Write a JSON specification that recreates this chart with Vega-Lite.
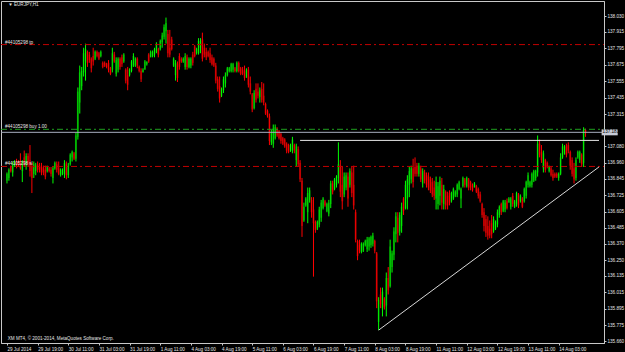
{
"$schema":"https://vega.github.io/schema/vega-lite/v6.json",
"width":603,"height":342,
"autosize":{"type":"none"},
"padding":{"left":1,"top":1,"right":21,"bottom":9},
"background":"#000000",
"view":{"stroke":"#c8c8c8","strokeWidth":1,"fill":"#000000"},
"config":{"axis":{"grid":false,"labelFont":"Liberation Sans","labelFontSize":4.6,"labelColor":"#e6e6e6","domainColor":"#c8c8c8","tickColor":"#c8c8c8","title":null,"labelOverlap":false,"labelFlush":false},
"text":{"font":"Liberation Sans"}},
"datasets":{
"bars":[
{"i":0,"o":136.83,"h":136.89,"l":136.81,"c":136.88},
{"i":1,"o":136.85,"h":136.92,"l":136.83,"c":136.91},
{"i":2,"o":136.93,"h":136.94,"l":136.89,"c":136.90},
{"i":3,"o":136.89,"h":136.97,"l":136.86,"c":136.95},
{"i":4,"o":136.94,"h":136.98,"l":136.93,"c":136.97},
{"i":5,"o":136.97,"h":136.99,"l":136.92,"c":136.93},
{"i":6,"o":136.97,"h":136.98,"l":136.93,"c":136.94},
{"i":7,"o":136.97,"h":137.03,"l":136.91,"c":136.92},
{"i":8,"o":136.90,"h":136.98,"l":136.82,"c":136.97},
{"i":9,"o":137.00,"h":137.05,"l":136.93,"c":136.94},
{"i":10,"o":136.94,"h":137.03,"l":136.91,"c":137.01},
{"i":11,"o":137.01,"h":137.03,"l":136.93,"c":136.95},
{"i":12,"o":136.98,"h":137.09,"l":136.86,"c":136.90},
{"i":13,"o":136.93,"h":136.96,"l":136.74,"c":136.85},
{"i":14,"o":136.88,"h":136.97,"l":136.85,"c":136.95},
{"i":15,"o":136.90,"h":136.96,"l":136.87,"c":136.94},
{"i":16,"o":136.95,"h":136.97,"l":136.89,"c":136.91},
{"i":17,"o":136.94,"h":136.96,"l":136.89,"c":136.91},
{"i":18,"o":136.93,"h":136.96,"l":136.87,"c":136.89},
{"i":19,"o":136.92,"h":136.94,"l":136.87,"c":136.89},
{"i":20,"o":136.91,"h":136.94,"l":136.84,"c":136.86},
{"i":21,"o":136.90,"h":136.94,"l":136.89,"c":136.93},
{"i":22,"o":136.92,"h":136.93,"l":136.89,"c":136.90},
{"i":23,"o":136.91,"h":136.93,"l":136.86,"c":136.88},
{"i":24,"o":136.85,"h":136.93,"l":136.81,"c":136.92},
{"i":25,"o":136.92,"h":136.97,"l":136.91,"c":136.96},
{"i":26,"o":136.95,"h":136.97,"l":136.89,"c":136.91},
{"i":27,"o":136.92,"h":136.97,"l":136.87,"c":136.88},
{"i":28,"o":136.87,"h":136.92,"l":136.86,"c":136.91},
{"i":29,"o":136.88,"h":136.92,"l":136.87,"c":136.91},
{"i":30,"o":136.88,"h":136.98,"l":136.85,"c":136.96},
{"i":31,"o":136.95,"h":136.97,"l":136.84,"c":136.87},
{"i":32,"o":136.87,"h":136.96,"l":136.85,"c":136.94},
{"i":33,"o":136.95,"h":137.03,"l":136.94,"c":137.02},
{"i":34,"o":137.00,"h":137.05,"l":136.97,"c":137.04},
{"i":35,"o":137.03,"h":137.04,"l":136.98,"c":136.99},
{"i":36,"o":136.99,"h":137.18,"l":136.97,"c":137.16},
{"i":37,"o":137.15,"h":137.51,"l":137.13,"c":137.48},
{"i":38,"o":137.40,"h":137.67,"l":137.32,"c":137.62},
{"i":39,"o":137.52,"h":137.66,"l":137.49,"c":137.63},
{"i":40,"o":137.62,"h":137.80,"l":137.59,"c":137.76},
{"i":41,"o":137.70,"h":137.83,"l":137.56,"c":137.79},
{"i":42,"o":137.77,"h":137.78,"l":137.66,"c":137.69},
{"i":43,"o":137.75,"h":137.77,"l":137.69,"c":137.71},
{"i":44,"o":137.72,"h":137.73,"l":137.62,"c":137.65},
{"i":45,"o":137.74,"h":137.80,"l":137.67,"c":137.70},
{"i":46,"o":137.72,"h":137.78,"l":137.71,"c":137.77},
{"i":47,"o":137.77,"h":137.78,"l":137.73,"c":137.74},
{"i":48,"o":137.76,"h":137.77,"l":137.71,"c":137.72},
{"i":49,"o":137.74,"h":137.78,"l":137.73,"c":137.77},
{"i":50,"o":137.69,"h":137.70,"l":137.65,"c":137.66},
{"i":51,"o":137.69,"h":137.70,"l":137.66,"c":137.67},
{"i":52,"o":137.68,"h":137.69,"l":137.65,"c":137.66},
{"i":53,"o":137.69,"h":137.71,"l":137.62,"c":137.64},
{"i":54,"o":137.65,"h":137.66,"l":137.60,"c":137.61},
{"i":55,"o":137.64,"h":137.80,"l":137.62,"c":137.76},
{"i":56,"o":137.75,"h":137.77,"l":137.69,"c":137.70},
{"i":57,"o":137.61,"h":137.73,"l":137.59,"c":137.71},
{"i":58,"o":137.64,"h":137.73,"l":137.62,"c":137.72},
{"i":59,"o":137.72,"h":137.73,"l":137.64,"c":137.66},
{"i":60,"o":137.73,"h":137.75,"l":137.66,"c":137.68},
{"i":61,"o":137.70,"h":137.76,"l":137.69,"c":137.75},
{"i":62,"o":137.64,"h":137.65,"l":137.54,"c":137.56},
{"i":63,"o":137.60,"h":137.66,"l":137.49,"c":137.53},
{"i":64,"o":137.60,"h":137.65,"l":137.59,"c":137.64},
{"i":65,"o":137.63,"h":137.71,"l":137.62,"c":137.70},
{"i":66,"o":137.67,"h":137.76,"l":137.66,"c":137.74},
{"i":67,"o":137.67,"h":137.73,"l":137.66,"c":137.72},
{"i":68,"o":137.72,"h":137.73,"l":137.65,"c":137.67},
{"i":69,"o":137.66,"h":137.67,"l":137.62,"c":137.63},
{"i":70,"o":137.63,"h":137.65,"l":137.55,"c":137.57},
{"i":71,"o":137.62,"h":137.65,"l":137.62,"c":137.64},
{"i":72,"o":137.64,"h":137.71,"l":137.64,"c":137.70},
{"i":73,"o":137.68,"h":137.70,"l":137.67,"c":137.70},
{"i":74,"o":137.75,"h":137.76,"l":137.69,"c":137.70},
{"i":75,"o":137.73,"h":137.78,"l":137.73,"c":137.77},
{"i":76,"o":137.74,"h":137.78,"l":137.73,"c":137.77},
{"i":77,"o":137.75,"h":137.80,"l":137.73,"c":137.79},
{"i":78,"o":137.77,"h":137.84,"l":137.76,"c":137.83},
{"i":79,"o":137.79,"h":137.80,"l":137.73,"c":137.75},
{"i":80,"o":137.79,"h":137.86,"l":137.78,"c":137.85},
{"i":81,"o":137.84,"h":137.91,"l":137.80,"c":137.89},
{"i":82,"o":137.88,"h":137.97,"l":137.86,"c":137.95},
{"i":83,"o":137.92,"h":138.02,"l":137.83,"c":137.98},
{"i":84,"o":137.90,"h":137.93,"l":137.73,"c":137.76},
{"i":85,"o":137.80,"h":137.93,"l":137.73,"c":137.75},
{"i":86,"o":137.86,"h":137.88,"l":137.78,"c":137.79},
{"i":87,"o":137.67,"h":137.73,"l":137.66,"c":137.72},
{"i":88,"o":137.60,"h":137.71,"l":137.56,"c":137.69},
{"i":89,"o":137.68,"h":137.70,"l":137.55,"c":137.58},
{"i":90,"o":137.74,"h":137.76,"l":137.64,"c":137.66},
{"i":91,"o":137.72,"h":137.73,"l":137.69,"c":137.70},
{"i":92,"o":137.70,"h":137.73,"l":137.69,"c":137.72},
{"i":93,"o":137.66,"h":137.76,"l":137.64,"c":137.74},
{"i":94,"o":137.73,"h":137.75,"l":137.64,"c":137.66},
{"i":95,"o":137.66,"h":137.73,"l":137.65,"c":137.72},
{"i":96,"o":137.67,"h":137.73,"l":137.65,"c":137.72},
{"i":97,"o":137.75,"h":137.77,"l":137.67,"c":137.69},
{"i":98,"o":137.81,"h":137.82,"l":137.73,"c":137.74},
{"i":99,"o":137.76,"h":137.80,"l":137.75,"c":137.79},
{"i":100,"o":137.76,"h":137.87,"l":137.75,"c":137.85},
{"i":101,"o":137.80,"h":137.87,"l":137.76,"c":137.85},
{"i":102,"o":137.86,"h":137.91,"l":137.70,"c":137.72},
{"i":103,"o":137.80,"h":137.83,"l":137.73,"c":137.75},
{"i":104,"o":137.77,"h":137.80,"l":137.71,"c":137.73},
{"i":105,"o":137.77,"h":137.78,"l":137.73,"c":137.74},
{"i":106,"o":137.76,"h":137.80,"l":137.69,"c":137.71},
{"i":107,"o":137.73,"h":137.75,"l":137.67,"c":137.68},
{"i":108,"o":137.72,"h":137.73,"l":137.66,"c":137.67},
{"i":109,"o":137.67,"h":137.69,"l":137.54,"c":137.56},
{"i":110,"o":137.57,"h":137.59,"l":137.48,"c":137.50},
{"i":111,"o":137.52,"h":137.59,"l":137.40,"c":137.43},
{"i":112,"o":137.45,"h":137.51,"l":137.44,"c":137.50},
{"i":113,"o":137.49,"h":137.59,"l":137.47,"c":137.57},
{"i":114,"o":137.54,"h":137.62,"l":137.51,"c":137.60},
{"i":115,"o":137.60,"h":137.66,"l":137.59,"c":137.65},
{"i":116,"o":137.63,"h":137.66,"l":137.62,"c":137.65},
{"i":117,"o":137.63,"h":137.69,"l":137.62,"c":137.68},
{"i":118,"o":137.64,"h":137.69,"l":137.62,"c":137.68},
{"i":119,"o":137.65,"h":137.66,"l":137.62,"c":137.63},
{"i":120,"o":137.63,"h":137.70,"l":137.62,"c":137.69},
{"i":121,"o":137.69,"h":137.70,"l":137.62,"c":137.63},
{"i":122,"o":137.65,"h":137.66,"l":137.60,"c":137.61},
{"i":123,"o":137.64,"h":137.66,"l":137.60,"c":137.61},
{"i":124,"o":137.63,"h":137.67,"l":137.56,"c":137.58},
{"i":125,"o":137.59,"h":137.65,"l":137.58,"c":137.64},
{"i":126,"o":137.64,"h":137.66,"l":137.51,"c":137.53},
{"i":127,"o":137.54,"h":137.59,"l":137.46,"c":137.48},
{"i":128,"o":137.46,"h":137.47,"l":137.33,"c":137.35},
{"i":129,"o":137.36,"h":137.49,"l":137.35,"c":137.47},
{"i":130,"o":137.50,"h":137.54,"l":137.40,"c":137.42},
{"i":131,"o":137.48,"h":137.54,"l":137.43,"c":137.45},
{"i":132,"o":137.44,"h":137.51,"l":137.40,"c":137.49},
{"i":133,"o":137.50,"h":137.55,"l":137.40,"c":137.42},
{"i":134,"o":137.45,"h":137.54,"l":137.38,"c":137.40},
{"i":135,"o":137.39,"h":137.40,"l":137.31,"c":137.32},
{"i":136,"o":137.34,"h":137.35,"l":137.29,"c":137.30},
{"i":137,"o":137.30,"h":137.32,"l":137.09,"c":137.12},
{"i":138,"o":137.11,"h":137.20,"l":137.09,"c":137.18},
{"i":139,"o":137.10,"h":137.24,"l":137.07,"c":137.21},
{"i":140,"o":137.14,"h":137.24,"l":137.13,"c":137.22},
{"i":141,"o":137.21,"h":137.22,"l":137.15,"c":137.16},
{"i":142,"o":137.19,"h":137.20,"l":137.13,"c":137.14},
{"i":143,"o":137.17,"h":137.18,"l":137.10,"c":137.12},
{"i":144,"o":137.14,"h":137.15,"l":137.09,"c":137.10},
{"i":145,"o":137.13,"h":137.14,"l":137.07,"c":137.08},
{"i":146,"o":137.10,"h":137.11,"l":137.03,"c":137.05},
{"i":147,"o":137.09,"h":137.10,"l":137.03,"c":137.04},
{"i":148,"o":137.05,"h":137.10,"l":137.04,"c":137.09},
{"i":149,"o":137.05,"h":137.15,"l":137.03,"c":137.13},
{"i":150,"o":137.09,"h":137.10,"l":137.03,"c":137.05},
{"i":151,"o":136.98,"h":137.10,"l":136.93,"c":137.08},
{"i":152,"o":137.06,"h":137.08,"l":136.93,"c":136.95},
{"i":153,"o":136.96,"h":136.98,"l":136.82,"c":136.84},
{"i":154,"o":136.83,"h":136.85,"l":136.42,"c":136.50},
{"i":155,"o":136.54,"h":136.67,"l":136.53,"c":136.64},
{"i":156,"o":136.65,"h":136.71,"l":136.64,"c":136.70},
{"i":157,"o":136.60,"h":136.78,"l":136.52,"c":136.74},
{"i":158,"o":136.69,"h":136.78,"l":136.67,"c":136.76},
{"i":159,"o":136.69,"h":136.71,"l":136.56,"c":136.60},
{"i":160,"o":136.62,"h":136.71,"l":136.13,"c":136.52},
{"i":161,"o":136.53,"h":136.54,"l":136.45,"c":136.47},
{"i":162,"o":136.48,"h":136.54,"l":136.47,"c":136.53},
{"i":163,"o":136.51,"h":136.64,"l":136.49,"c":136.62},
{"i":164,"o":136.56,"h":136.69,"l":136.53,"c":136.67},
{"i":165,"o":136.63,"h":136.71,"l":136.62,"c":136.70},
{"i":166,"o":136.68,"h":136.69,"l":136.64,"c":136.65},
{"i":167,"o":136.61,"h":136.67,"l":136.60,"c":136.66},
{"i":168,"o":136.59,"h":136.69,"l":136.57,"c":136.67},
{"i":169,"o":136.66,"h":136.83,"l":136.63,"c":136.81},
{"i":170,"o":136.81,"h":136.83,"l":136.73,"c":136.75},
{"i":171,"o":136.77,"h":136.85,"l":136.76,"c":136.84},
{"i":172,"o":136.80,"h":136.87,"l":136.78,"c":136.86},
{"i":173,"o":136.85,"h":137.11,"l":136.81,"c":136.95},
{"i":174,"o":136.94,"h":136.98,"l":136.71,"c":136.75},
{"i":175,"o":136.80,"h":136.93,"l":136.62,"c":136.68},
{"i":176,"o":136.73,"h":136.89,"l":136.71,"c":136.86},
{"i":177,"o":136.78,"h":136.89,"l":136.76,"c":136.87},
{"i":178,"o":136.86,"h":136.89,"l":136.64,"c":136.70},
{"i":179,"o":136.80,"h":136.92,"l":136.78,"c":136.90},
{"i":180,"o":136.89,"h":136.93,"l":136.71,"c":136.74},
{"i":181,"o":136.80,"h":136.94,"l":136.62,"c":136.65},
{"i":182,"o":136.60,"h":136.62,"l":136.38,"c":136.40},
{"i":183,"o":136.39,"h":136.40,"l":136.25,"c":136.28},
{"i":184,"o":136.36,"h":136.40,"l":136.30,"c":136.32},
{"i":185,"o":136.31,"h":136.38,"l":136.30,"c":136.37},
{"i":186,"o":136.32,"h":136.38,"l":136.31,"c":136.37},
{"i":187,"o":136.36,"h":136.40,"l":136.35,"c":136.39},
{"i":188,"o":136.33,"h":136.42,"l":136.31,"c":136.40},
{"i":189,"o":136.35,"h":136.42,"l":136.32,"c":136.41},
{"i":190,"o":136.36,"h":136.43,"l":136.34,"c":136.42},
{"i":191,"o":136.37,"h":136.45,"l":136.35,"c":136.43},
{"i":192,"o":136.39,"h":136.40,"l":136.30,"c":136.32},
{"i":193,"o":136.30,"h":136.31,"l":135.90,"c":135.95},
{"i":194,"o":135.80,"h":135.98,"l":135.74,"c":135.96},
{"i":195,"o":136.00,"h":136.05,"l":135.90,"c":135.93},
{"i":196,"o":135.90,"h":136.05,"l":135.84,"c":136.02},
{"i":197,"o":135.97,"h":135.98,"l":135.89,"c":135.91},
{"i":198,"o":135.92,"h":136.16,"l":135.84,"c":136.12},
{"i":199,"o":136.12,"h":136.20,"l":136.00,"c":136.03},
{"i":200,"o":136.06,"h":136.40,"l":136.05,"c":136.35},
{"i":201,"o":136.20,"h":136.32,"l":136.16,"c":136.30},
{"i":202,"o":136.29,"h":136.49,"l":136.25,"c":136.46},
{"i":203,"o":136.44,"h":136.60,"l":136.38,"c":136.57},
{"i":204,"o":136.56,"h":136.60,"l":136.38,"c":136.45},
{"i":205,"o":136.46,"h":136.60,"l":136.43,"c":136.58},
{"i":206,"o":136.50,"h":136.67,"l":136.45,"c":136.64},
{"i":207,"o":136.70,"h":136.71,"l":136.58,"c":136.61},
{"i":208,"o":136.63,"h":136.83,"l":136.62,"c":136.80},
{"i":209,"o":136.70,"h":136.87,"l":136.62,"c":136.84},
{"i":210,"o":136.80,"h":136.93,"l":136.71,"c":136.90},
{"i":211,"o":136.84,"h":136.94,"l":136.81,"c":136.92},
{"i":212,"o":136.92,"h":136.99,"l":136.78,"c":136.82},
{"i":213,"o":136.93,"h":137.00,"l":136.86,"c":136.88},
{"i":214,"o":136.94,"h":136.96,"l":136.86,"c":136.88},
{"i":215,"o":136.88,"h":136.96,"l":136.86,"c":136.94},
{"i":216,"o":136.92,"h":136.94,"l":136.82,"c":136.84},
{"i":217,"o":136.81,"h":136.92,"l":136.78,"c":136.90},
{"i":218,"o":136.89,"h":136.91,"l":136.81,"c":136.83},
{"i":219,"o":136.87,"h":136.89,"l":136.78,"c":136.80},
{"i":220,"o":136.86,"h":136.89,"l":136.76,"c":136.78},
{"i":221,"o":136.84,"h":136.86,"l":136.74,"c":136.76},
{"i":222,"o":136.82,"h":136.85,"l":136.71,"c":136.73},
{"i":223,"o":136.78,"h":136.83,"l":136.69,"c":136.72},
{"i":224,"o":136.70,"h":136.86,"l":136.62,"c":136.82},
{"i":225,"o":136.66,"h":136.82,"l":136.62,"c":136.79},
{"i":226,"o":136.72,"h":136.86,"l":136.65,"c":136.83},
{"i":227,"o":136.80,"h":136.85,"l":136.62,"c":136.67},
{"i":228,"o":136.66,"h":136.80,"l":136.62,"c":136.77},
{"i":229,"o":136.75,"h":136.76,"l":136.62,"c":136.65},
{"i":230,"o":136.72,"h":136.75,"l":136.62,"c":136.65},
{"i":231,"o":136.74,"h":136.76,"l":136.65,"c":136.67},
{"i":232,"o":136.68,"h":136.75,"l":136.67,"c":136.74},
{"i":233,"o":136.70,"h":136.78,"l":136.69,"c":136.77},
{"i":234,"o":136.72,"h":136.76,"l":136.71,"c":136.75},
{"i":235,"o":136.73,"h":136.81,"l":136.71,"c":136.80},
{"i":236,"o":136.77,"h":136.83,"l":136.76,"c":136.82},
{"i":237,"o":136.70,"h":136.78,"l":136.63,"c":136.77},
{"i":238,"o":136.79,"h":136.86,"l":136.78,"c":136.85},
{"i":239,"o":136.84,"h":136.85,"l":136.78,"c":136.80},
{"i":240,"o":136.79,"h":136.86,"l":136.78,"c":136.85},
{"i":241,"o":136.84,"h":136.85,"l":136.76,"c":136.78},
{"i":242,"o":136.82,"h":136.83,"l":136.76,"c":136.78},
{"i":243,"o":136.80,"h":136.81,"l":136.75,"c":136.76},
{"i":244,"o":136.78,"h":136.82,"l":136.78,"c":136.81},
{"i":245,"o":136.79,"h":136.80,"l":136.74,"c":136.75},
{"i":246,"o":136.77,"h":136.78,"l":136.70,"c":136.72},
{"i":247,"o":136.73,"h":136.75,"l":136.67,"c":136.68},
{"i":248,"o":136.66,"h":136.67,"l":136.56,"c":136.58},
{"i":249,"o":136.60,"h":136.63,"l":136.46,"c":136.50},
{"i":250,"o":136.55,"h":136.58,"l":136.42,"c":136.45},
{"i":251,"o":136.50,"h":136.57,"l":136.40,"c":136.43},
{"i":252,"o":136.48,"h":136.54,"l":136.41,"c":136.43},
{"i":253,"o":136.52,"h":136.58,"l":136.41,"c":136.44},
{"i":254,"o":136.46,"h":136.57,"l":136.45,"c":136.55},
{"i":255,"o":136.48,"h":136.54,"l":136.47,"c":136.53},
{"i":256,"o":136.51,"h":136.62,"l":136.49,"c":136.60},
{"i":257,"o":136.58,"h":136.65,"l":136.56,"c":136.64},
{"i":258,"o":136.66,"h":136.67,"l":136.58,"c":136.60},
{"i":259,"o":136.61,"h":136.69,"l":136.60,"c":136.68},
{"i":260,"o":136.62,"h":136.69,"l":136.60,"c":136.67},
{"i":261,"o":136.68,"h":136.70,"l":136.62,"c":136.63},
{"i":262,"o":136.67,"h":136.71,"l":136.67,"c":136.70},
{"i":263,"o":136.64,"h":136.71,"l":136.62,"c":136.70},
{"i":264,"o":136.72,"h":136.74,"l":136.64,"c":136.66},
{"i":265,"o":136.64,"h":136.69,"l":136.63,"c":136.68},
{"i":266,"o":136.66,"h":136.75,"l":136.64,"c":136.74},
{"i":267,"o":136.73,"h":136.74,"l":136.63,"c":136.65},
{"i":268,"o":136.68,"h":136.73,"l":136.67,"c":136.72},
{"i":269,"o":136.70,"h":136.71,"l":136.63,"c":136.64},
{"i":270,"o":136.68,"h":136.78,"l":136.67,"c":136.77},
{"i":271,"o":136.72,"h":136.83,"l":136.70,"c":136.82},
{"i":272,"o":136.80,"h":136.89,"l":136.78,"c":136.87},
{"i":273,"o":136.79,"h":136.83,"l":136.78,"c":136.82},
{"i":274,"o":136.80,"h":136.89,"l":136.78,"c":136.88},
{"i":275,"o":136.83,"h":136.91,"l":136.82,"c":136.90},
{"i":276,"o":136.85,"h":136.91,"l":136.83,"c":136.90},
{"i":277,"o":136.89,"h":137.16,"l":136.86,"c":137.10},
{"i":278,"o":137.10,"h":137.13,"l":137.00,"c":137.02},
{"i":279,"o":137.04,"h":137.09,"l":136.96,"c":136.98},
{"i":280,"o":136.92,"h":137.05,"l":136.89,"c":137.03},
{"i":281,"o":136.98,"h":136.99,"l":136.89,"c":136.91},
{"i":282,"o":136.96,"h":136.97,"l":136.92,"c":136.93},
{"i":283,"o":136.90,"h":136.94,"l":136.89,"c":136.93},
{"i":284,"o":136.92,"h":136.93,"l":136.86,"c":136.87},
{"i":285,"o":136.88,"h":136.91,"l":136.83,"c":136.85},
{"i":286,"o":136.88,"h":136.89,"l":136.85,"c":136.86},
{"i":287,"o":136.88,"h":136.89,"l":136.85,"c":136.86},
{"i":288,"o":136.85,"h":136.89,"l":136.83,"c":136.88},
{"i":289,"o":136.88,"h":137.03,"l":136.87,"c":137.00},
{"i":290,"o":137.00,"h":137.10,"l":136.99,"c":137.08},
{"i":291,"o":137.03,"h":137.09,"l":137.02,"c":137.08},
{"i":292,"o":137.08,"h":137.10,"l":137.00,"c":137.02},
{"i":293,"o":137.09,"h":137.11,"l":137.03,"c":137.05},
{"i":294,"o":137.04,"h":137.05,"l":136.91,"c":136.94},
{"i":295,"o":136.98,"h":137.00,"l":136.86,"c":136.88},
{"i":296,"o":136.92,"h":136.96,"l":136.81,"c":136.84},
{"i":297,"o":136.85,"h":137.00,"l":136.83,"c":136.98},
{"i":298,"o":137.00,"h":137.05,"l":136.99,"c":137.04},
{"i":299,"o":136.98,"h":137.05,"l":136.96,"c":137.04},
{"i":300,"o":137.02,"h":137.03,"l":136.93,"c":136.95},
{"i":301,"o":136.96,"h":137.22,"l":136.93,"c":137.20},
{"i":302,"o":137.20,"h":137.21,"l":137.15,"c":137.18}
],
"levels":[
{"kind":"tp","p":137.823,"t":"#44105298 tp"},
{"kind":"buy","p":137.205,"t":"#44105298 buy 1.00"},
{"kind":"sl","p":136.934,"t":"#44105298 sl"}
],
"trend":[{"i":194,"p":135.74},{"i":309,"p":136.93}],
"hline":[{"i":153,"i2":309.03,"p":137.124}],
"bid":[{"p":137.183,"pa":137.205,"pb":137.161,"i":310.4,"i2":318.8,"t":"137.181"}],
"notes":[
{"i":0.6,"p":138.112,"t":"▼ EURJPY,H1"},
{"i":0.4,"p":135.676,"t":"XM MT4, © 2001-2014, MetaQuotes Software Corp."}
]
},
"encoding":{
"x":{"field":"i","type":"quantitative","scale":{"domain":[-0.513,309.03],"nice":false,"zero":false},
"axis":{"orient":"bottom","values":[0,16,32,48,64,80,96,112,128,144,160,176,192,208,224,240,256,272,288],
"labelExpr":"['29 Jul 2014','29 Jul 19:00','30 Jul 11:00','31 Jul 03:00','31 Jul 19:00','1 Aug 11:00','4 Aug 03:00','4 Aug 19:00','5 Aug 11:00','6 Aug 03:00','6 Aug 19:00','7 Aug 11:00','8 Aug 03:00','8 Aug 19:00','11 Aug 11:00','12 Aug 03:00','12 Aug 19:00','13 Aug 11:00','14 Aug 03:00'][round(datum.value/16)]",
"labelAlign":"left","labelBaseline":"top","labelPadding":1,"tickSize":2,"labelOverlap":false,"labelFlush":false,"tickCount":40}}
},
"layer":[
{"data":{"name":"bars"},
"mark":{"type":"bar","width":2,"orient":"vertical"},
"encoding":{
"y":{"field":"o","type":"quantitative","scale":{"domain":[135.646,138.141],"nice":false,"zero":false},
"axis":{"orient":"right","values":[138.03,137.915,137.795,137.675,137.555,137.435,137.315,137.08,136.96,136.845,136.725,136.605,136.485,136.37,136.25,136.135,136.015,135.895,135.775,135.66],"format":".3f","tickSize":2,"labelPadding":1,"labelBaseline":"middle","labelOverlap":false,"labelFlush":false,"tickCount":40}},
"y2":{"field":"c"},
"color":{"value":"#6e0000","condition":{"test":"datum.c >= datum.o","value":"#005400"}}
}},
{"data":{"name":"bars"},
"mark":{"type":"rule","strokeWidth":1},
"encoding":{
"y":{"field":"h","type":"quantitative","scale":{"domain":[135.646,138.141],"nice":false,"zero":false},"axis":{"labelOverlap":false,"tickCount":40}},
"y2":{"field":"l"},
"color":{"value":"#ff0000","condition":{"test":"datum.c >= datum.o","value":"#00ff00"}}
}},
{"data":{"name":"levels"},
"mark":{"type":"rule","strokeWidth":1,"strokeDash":[6,3,2,3]},
"encoding":{
"x":{"value":0},"x2":{"value":603},
"y":{"field":"p","type":"quantitative","scale":{"domain":[135.646,138.141],"nice":false,"zero":false},"axis":{"labelOverlap":false,"tickCount":40}},
"color":{"field":"kind","type":"nominal","legend":null,"scale":{"domain":["tp","buy","sl"],"range":["#c00000","#1fa01f","#c00000"]}}
}},
{"data":{"name":"bid"},
"mark":{"type":"rule","strokeWidth":1,"color":"#a8aec0"},
"encoding":{
"x":{"value":0},"x2":{"value":603},
"y":{"field":"p","type":"quantitative","scale":{"domain":[135.646,138.141],"nice":false,"zero":false},"axis":{"labelOverlap":false,"tickCount":40}}
}},
{"data":{"name":"hline"},
"mark":{"type":"rule","strokeWidth":1,"color":"#e8e8e8"},
"encoding":{
"x2":{"field":"i2"},
"y":{"field":"p","type":"quantitative","scale":{"domain":[135.646,138.141],"nice":false,"zero":false},"axis":{"labelOverlap":false,"tickCount":40}}
}},
{"data":{"name":"trend"},
"mark":{"type":"line","strokeWidth":1,"color":"#d8d8d8"},
"encoding":{
"y":{"field":"p","type":"quantitative","scale":{"domain":[135.646,138.141],"nice":false,"zero":false},"axis":{"labelOverlap":false,"tickCount":40}}
}},
{"data":{"name":"levels"},
"mark":{"type":"text","align":"left","baseline":"bottom","fontSize":4.6,"color":"#e6e6e6","dx":4},
"encoding":{
"x":{"value":0},
"y":{"field":"p","type":"quantitative","scale":{"domain":[135.646,138.141],"nice":false,"zero":false},"axis":{"labelOverlap":false,"tickCount":40}},
"text":{"field":"t"}
}},
{"data":{"name":"bid"},
"mark":{"type":"rect","color":"#c8ccd8"},
"encoding":{
"x2":{"field":"i2"},
"y":{"field":"pa","type":"quantitative","scale":{"domain":[135.646,138.141],"nice":false,"zero":false},"axis":{"labelOverlap":false,"tickCount":40}},
"y2":{"field":"pb"}
}},
{"data":{"name":"bid"},
"mark":{"type":"text","align":"left","baseline":"middle","fontSize":4.6,"color":"#000000","dx":1},
"encoding":{
"y":{"field":"p","type":"quantitative","scale":{"domain":[135.646,138.141],"nice":false,"zero":false},"axis":{"labelOverlap":false,"tickCount":40}},
"text":{"field":"t"}
}},
{"data":{"name":"notes"},
"mark":{"type":"text","align":"left","baseline":"middle","fontSize":4.6,"color":"#e6e6e6"},
"encoding":{
"y":{"field":"p","type":"quantitative","scale":{"domain":[135.646,138.141],"nice":false,"zero":false},"axis":{"labelOverlap":false,"tickCount":40}},
"text":{"field":"t"}
}}
]
}
